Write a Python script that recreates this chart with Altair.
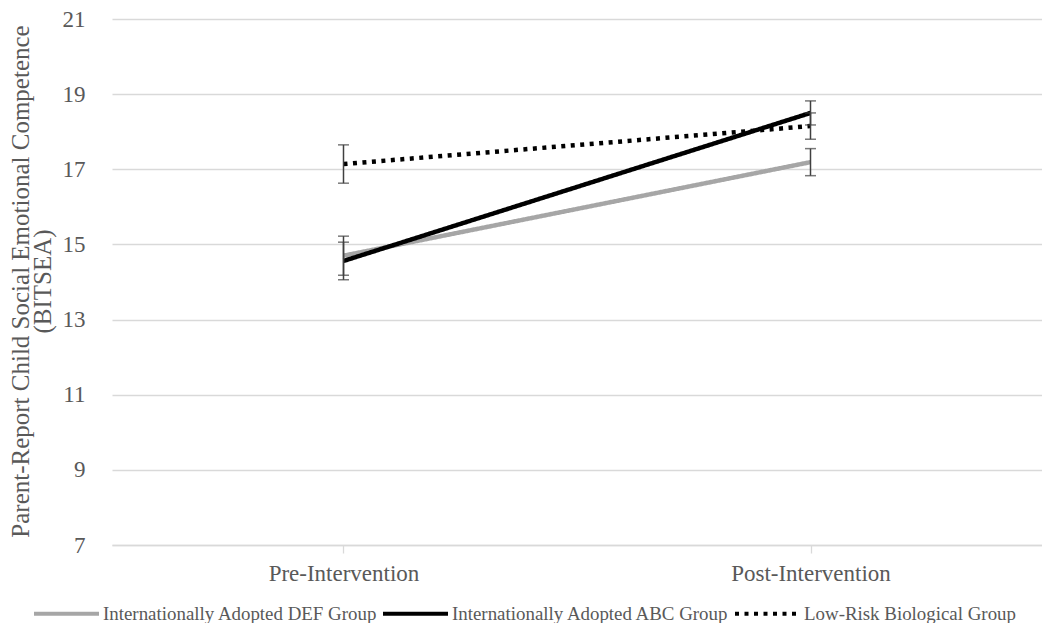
import altair as alt
import pandas as pd

groups = ["Internationally Adopted DEF Group", "Internationally Adopted ABC Group", "Low-Risk Biological Group"]
phases = ["Pre-Intervention", "Post-Intervention"]
pre_mean = [14.70, 14.56, 17.14]
post_mean = [17.19, 18.50, 18.15]
pre_err = [0.52, 0.50, 0.51]
post_err = [0.36, 0.32, 0.35]
y_ticks = [7, 9, 11, 13, 15, 17, 19, 21]

rows = []
for i, g in enumerate(groups):
    for ph, m, e in ((phases[0], pre_mean[i], pre_err[i]), (phases[1], post_mean[i], post_err[i])):
        rows.append({"group": g, "phase": ph, "mean": m, "lo": m - e, "hi": m + e, "order": i})
df = pd.DataFrame(rows)

FONT = "Liberation Serif"
TXT = "#595959"
GRID = "#d9d9d9"
ERR = "#404040"

W, H = 930, 526
xscale = alt.Scale(type="point", domain=phases, padding=0.4957)

xenc = alt.X(
    "phase:N",
    scale=xscale,
    axis=alt.Axis(
        title=None, domain=True, domainColor=GRID, domainWidth=1.3, grid=False, ticks=True,
        tickSize=8, tickColor=GRID, tickWidth=1.3, labelFont=FONT, labelFontSize=23,
        labelColor=TXT, labelPadding=9, labelAngle=0,
    ),
)
yscale = alt.Scale(domain=[7, 21], nice=False, zero=False)
yaxis = alt.Axis(
    values=y_ticks, grid=True, gridColor=GRID, gridWidth=1.3, domain=False, ticks=False,
    labelFont=FONT, labelFontSize=23, labelColor=TXT, labelPadding=27,
    title=["Parent-Report Child Social Emotional Competence", "(BITSEA)"],
    titleFont=FONT, titleFontSize=25, titleColor=TXT, titleFontWeight="normal",
    titleAngle=270, titleX=-104, titleY=262, titleAlign="center", titleBaseline="top",
    titleLineHeight=22,
)

leg = alt.Legend(
    orient="none", legendX=-80, legendY=560, direction="horizontal", title=None,
    symbolType="stroke", symbolSize=4225, symbolStrokeWidth=4,
    labelFont=FONT, labelFontSize=18.9, labelColor=TXT, labelLimit=0,
    columnPadding=-3, labelOffset=2, padding=0,
)

lines = alt.Chart(df).mark_line(strokeWidth=4.5).encode(
    x=xenc,
    y=alt.Y("mean:Q", scale=yscale, axis=yaxis),
    color=alt.Color("group:N", scale=alt.Scale(domain=groups, range=["#a6a6a6", "#000000", "#000000"]), legend=leg),
    strokeDash=alt.StrokeDash("group:N", scale=alt.Scale(domain=groups, range=[[1, 0], [1, 0], [4, 5.5]]), legend=leg),
    order=alt.Order("order:Q"),
)

err = alt.Chart(df).mark_rule(color=ERR, strokeWidth=1.5).encode(
    x=alt.X("phase:N", scale=xscale),
    y=alt.Y("lo:Q", scale=yscale),
    y2="hi:Q",
)
cap_lo = alt.Chart(df).mark_tick(color=ERR, thickness=1.5, size=11, orient="horizontal").encode(
    x=alt.X("phase:N", scale=xscale),
    y=alt.Y("lo:Q", scale=yscale),
)
cap_hi = alt.Chart(df).mark_tick(color=ERR, thickness=1.5, size=11, orient="horizontal").encode(
    x=alt.X("phase:N", scale=xscale),
    y=alt.Y("hi:Q", scale=yscale),
)

chart = alt.layer(lines, err, cap_lo, cap_hi).properties(
    width=W, height=H,
    background="white",
    autosize=alt.AutoSizeParams(type="none"),
    padding={"left": 104, "top": 11, "right": 0, "bottom": 78},
).configure_view(stroke=None)

chart.save("out.html", embed_options={"renderer": "svg", "actions": False})
